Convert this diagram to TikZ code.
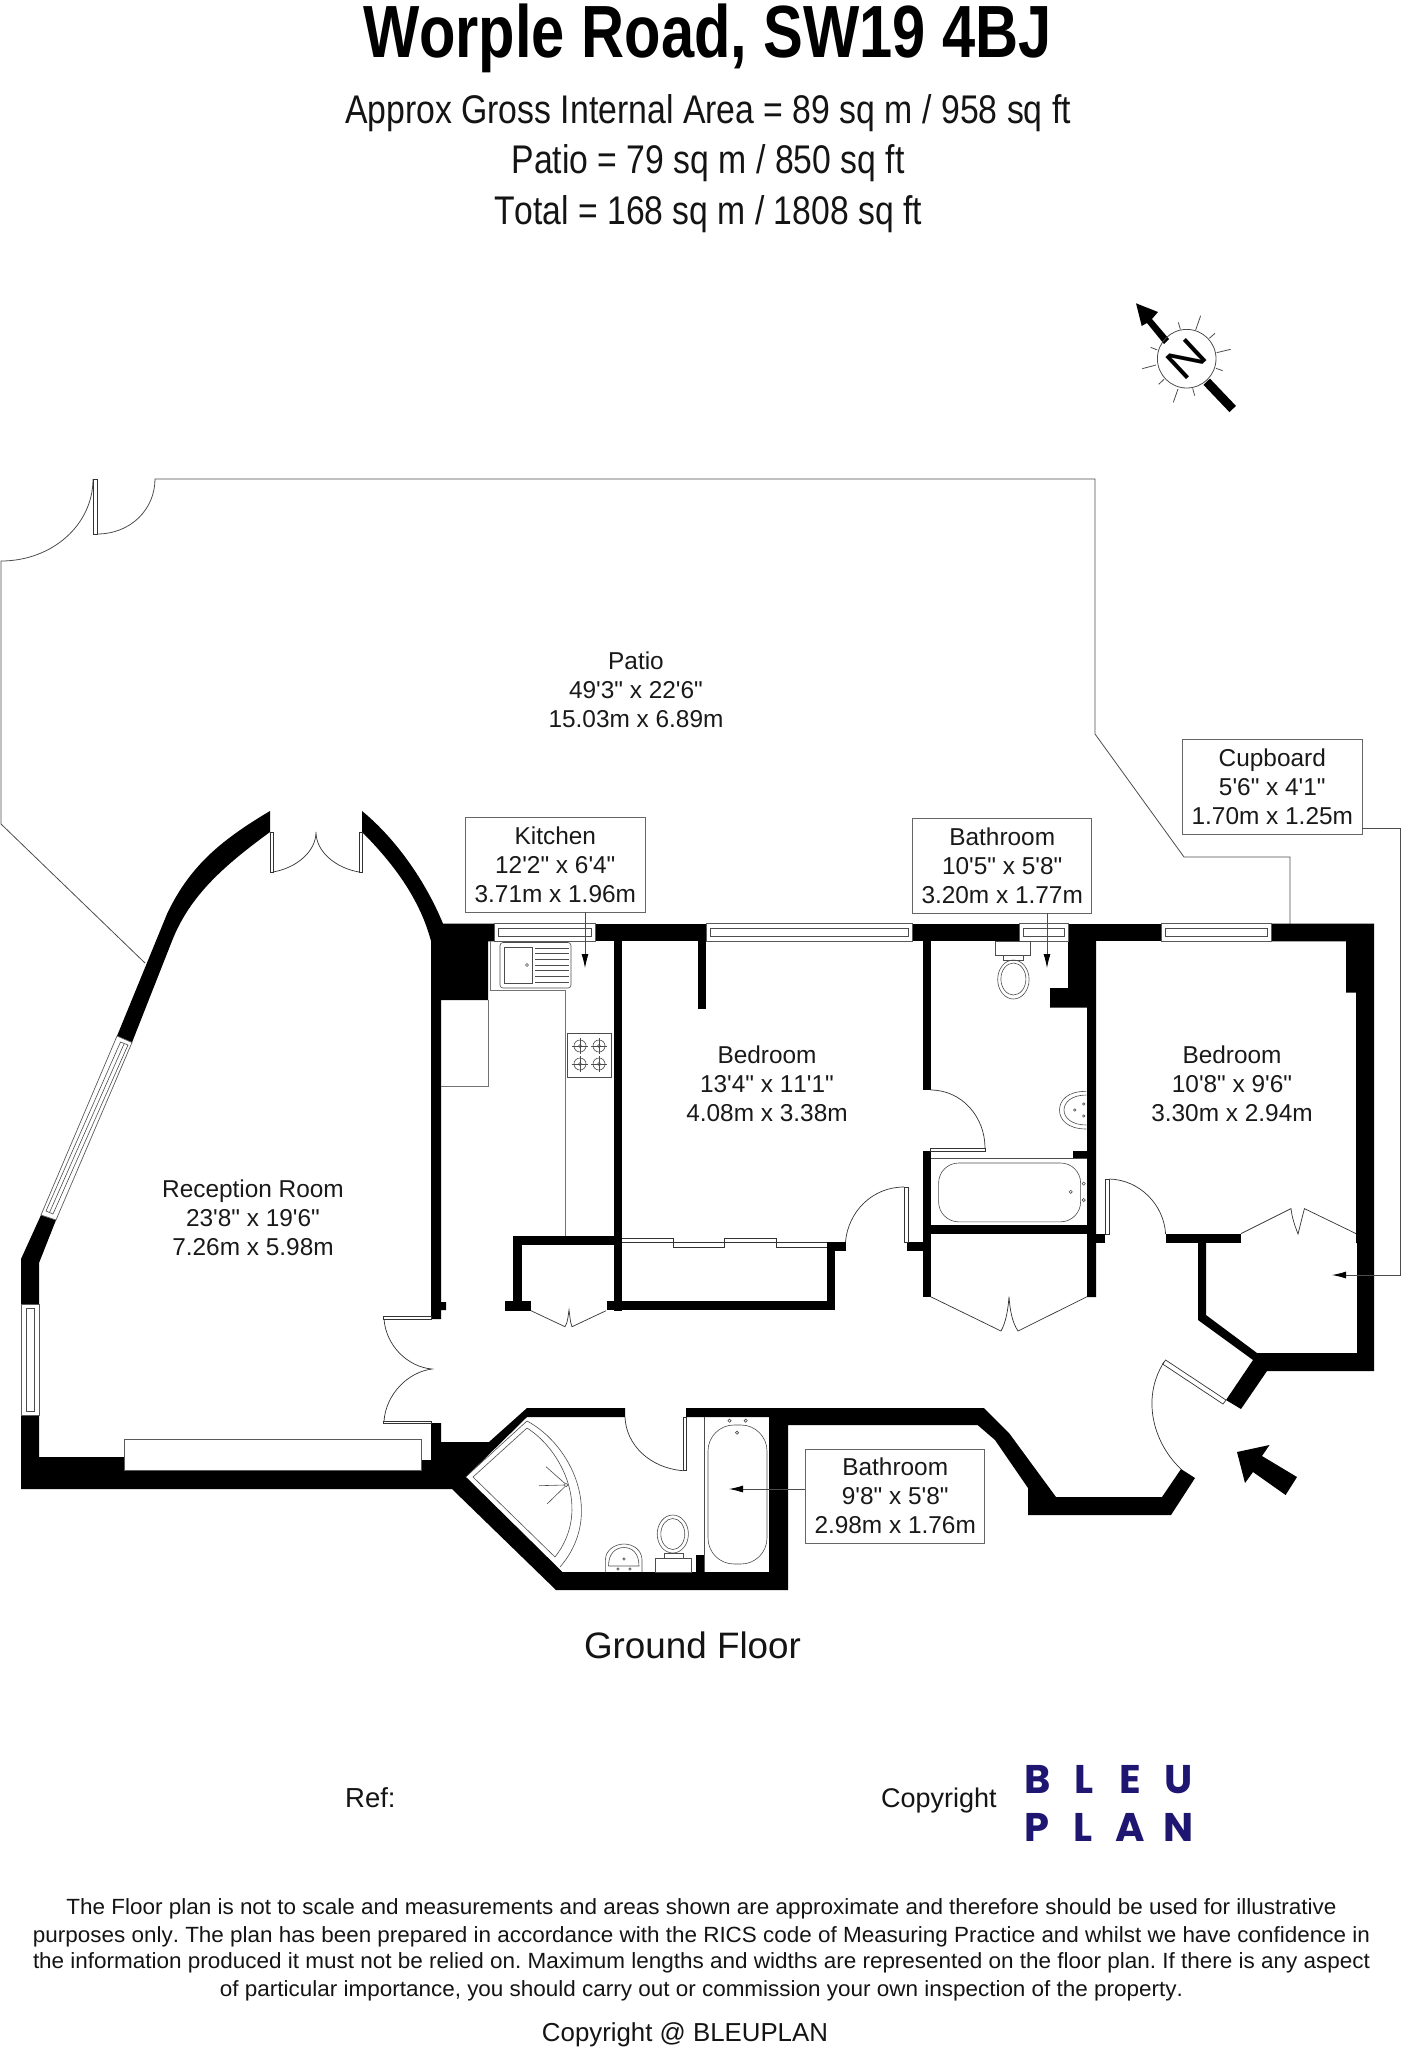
\documentclass[tikz,border=0pt]{standalone}
\usepackage{graphicx}
\usepackage{fontspec}
\usetikzlibrary{arrows.meta}
\newfontfamily\arl[Kerning=Off]{Liberation Sans}
\newfontfamily\logofont{Poppins}
\newcommand{\fitw}[2]{\resizebox{#1pt}{\height}{#2}}
\frenchspacing
\tikzset{
 wall/.style={fill=black,draw=none},
 door/.style={draw=black!80,line width=.7pt},
 fixture/.style={draw=black!70,line width=.6pt},
 glass/.style={draw=black!65,line width=.7pt,fill=white},
 outline/.style={draw=black!70,line width=.8pt},
 leader/.style={draw=black!70,line width=.8pt},
 tipped/.style={leader,-{Latex[length=14pt,width=7pt,black]}},
 labelbox/.style={draw=black!60,line width=.8pt,fill=white,inner sep=0pt,align=center,font=\arl\fontsize{24.4}{29}\selectfont,text=black!90},
 roomtext/.style={inner sep=0pt,align=center,font=\arl\fontsize{24.4}{29}\selectfont,text=black!90},
 line/.style={inner sep=0pt,anchor=base,text=black!92},
 logo/.style={inner sep=0pt,anchor=base,text=logoblue,font=\logofont\bfseries\fontsize{40}{40}\selectfont},
}
\definecolor{logoblue}{HTML}{1E1670}
\begin{document}
\begin{tikzpicture}[x=1pt,y=-1pt]
\useasboundingbox (0,0) rectangle (1402,2048);
% headings
\node[line,font=\arl\bfseries\fontsize{74}{74}\selectfont,text=black] (title) at (707.5,57) {\fitw{689}{Worple Road, SW19 4BJ}};
\node[line,font=\arl\fontsize{40}{40}\selectfont] (h1) at (708,123) {\fitw{726}{Approx Gross Internal Area = 89 sq m / 958 sq ft}};
\node[line,font=\arl\fontsize{40}{40}\selectfont] (h2) at (708,173) {\fitw{393}{Patio = 79 sq m / 850 sq ft}};
\node[line,font=\arl\fontsize{40}{40}\selectfont] (h3) at (708,224) {\fitw{428}{Total = 168 sq m / 1808 sq ft}};
% north arrow
\fill (1136,303.3) -- (1158,312) -- (1152,319) -- (1169,339) -- (1164,344) -- (1147,323) -- (1141.7,326) -- cycle;
\draw[line width=9pt] (1206.7,381.7) -- (1232.7,409);
\draw[draw=black!70,line width=.8pt] (1186.7,358.7) circle[radius=29.3pt];
\begin{scope}[shift={(1080,280)},x=.3333pt,y=-.3333pt]
\foreach \a/\b/\c/\d in {347/150/362/107,388/175/405/160,410/218/452/208,408/265/428/272,338/325/344/347,294/327/280/367,252/298/236/313,228/255/187/266,232/210/212/202,301/148/295/127}
  \draw[draw=black!70,line width=.8pt] (\a,\b) -- (\c,\d);
\end{scope}
\node[inner sep=0pt,rotate=43,font=\arl\fontsize{44}{44}\selectfont] (north) at (1186.7,358.7) {\scalebox{1.14}[1]{N}};
% patio outline
\draw[outline] (1,824) -- (1,561) .. controls (52,561) and (93,525) .. (93,479);
\draw[outline] (97,534) .. controls (131,534) and (155,509) .. (155,479) -- (1095,479) -- (1095,734) -- (1184,857) -- (1290,857) -- (1290,924);
\draw[outline] (1,824) -- (145,963);
\draw[door] (93.3,479) rectangle (97.3,534);
% walls
\fill[wall] (270,811) .. controls (223,839) and (190,865) .. (167,914) -- (117,1036) -- (132,1042.5) -- (172,941) .. controls (190,895) and (225,865) .. (270,832) -- cycle;
\fill[wall] (41,1215) -- (56,1220) -- (39,1263) -- (39,1304) -- (21,1304) -- (21,1259) -- cycle;
\fill[wall] (362,811) .. controls (395,838) and (425,880) .. (443,923.6) -- (494,923.6) -- (494,941.4) -- (488,941.4) -- (488,1000) -- (441,1000) -- (441,1302) -- (446,1302) -- (446,1310) -- (441,1310) -- (441,1319) -- (431,1319) -- (431,941) .. controls (420,900) and (395,865) .. (362,832) -- cycle;
\fill[wall] (21,1415) -- (39,1415) -- (39,1457) -- (124,1457) -- (124,1470) -- (421,1470) -- (421,1460) -- (431,1460) -- (431,1423) -- (441,1423) -- (441,1442) -- (489,1442) -- (527,1408) -- (625,1408) -- (625,1417) -- (527,1417) -- (466,1477) -- (562.5,1572) -- (696,1572) -- (696,1555) -- (704.5,1555) -- (704.5,1572) -- (769,1572) -- (769,1417) -- (686,1417) -- (686,1408) -- (984,1408) -- (1009,1433) -- (1056,1497) -- (1162,1497) -- (1181,1469) -- (1195,1478) -- (1171,1515) -- (1028,1515) -- (1028,1488) -- (995,1440) -- (977.6,1425) -- (788,1425) -- (788,1590) -- (556,1590) -- (452,1489) -- (21,1489) -- cycle;
% right hand wall
\fill[wall] (1271,923.6) -- (1374,923.6) -- (1374,1371) -- (1267,1371) -- (1241,1409) -- (1226,1400) -- (1253,1360) -- (1198,1320) -- (1198,1243) -- (1206,1243) -- (1206,1315) -- (1257,1353) -- (1357,1353) -- (1357,1243) -- (1356,1243) -- (1356,992.5) -- (1346,992.5) -- (1346,941.4) -- (1271,941.4) -- cycle;
\fill[wall] (1165.6,1234) rectangle (1241,1243);
% top wall pieces
\fill[wall] (595,923.6) rectangle (706,941.4);
\fill[wall] (912,923.6) rectangle (1019,941.4);
\fill[wall] (1068.5,923.6) rectangle (1161,941.4);
% inner walls
\fill[wall] (698,941) rectangle (706,1009);
\fill[wall] (614,941) rectangle (622,1311);
\fill[wall] (513,1236) rectangle (622,1245);
\fill[wall] (513,1236) rectangle (522,1301);
\fill[wall] (504.5,1301) rectangle (531,1311);
\fill[wall] (606.7,1301) rectangle (835,1310);
\fill[wall] (826.7,1241.7) rectangle (835,1310);
\fill[wall] (826.7,1241.7) rectangle (845.7,1251);
\fill[wall] (922.5,941) rectangle (930.6,1090);
\fill[wall] (922.5,1151) rectangle (930.6,1297);
\fill[wall] (907,1242) rectangle (922.5,1251);
\fill[wall] (930,1225) rectangle (1087,1234);
\fill[wall] (1068,941) -- (1096,941) -- (1096,1297) -- (1087,1297) -- (1087,1007.5) -- (1050,1007.5) -- (1050,988) -- (1068,988) -- cycle;
\fill[wall] (1096,1234) rectangle (1105,1243);
\fill[wall] (1072.5,1151) rectangle (1087,1159);
% windows
\draw[glass] (494,923.6) rectangle (595,941.4);
\draw[fixture] (498,928) rectangle (591.5,936.5);
\draw[glass] (706,923.6) rectangle (912,941.4);
\draw[fixture] (710,928) rectangle (908,936.5);
\draw[glass] (1019,923.6) rectangle (1068.5,941.4);
\draw[fixture] (1023,928) rectangle (1064.5,936.5);
\draw[glass] (1161,923.6) rectangle (1271,941.4);
\draw[fixture] (1165,928) rectangle (1267,936.5);
\draw[glass] (21,1304) rectangle (39,1415);
\draw[fixture] (26,1308) rectangle (34,1411);
\draw[glass] (117,1036) -- (132,1042.5) -- (56,1220) -- (41,1215) -- cycle;
\draw[fixture] (120.5,1042) -- (128,1045) -- (53,1214) -- (46,1211) -- cycle;
\draw[fixture] (124,1044) -- (49.5,1212.5);
% recess in the outer wall
\draw[glass] (124,1439.3) rectangle (421,1470);
% doors
\draw[door] (270,832) rectangle (273,872);
\draw[door] (359,832) rectangle (362,872);
\draw[door] (273,872) .. controls (296,868) and (316,852) .. (316,832) .. controls (316,852) and (336,868) .. (359,872);
\draw[door] (383,1316) rectangle (431,1319);
\draw[door] (383,1421) rectangle (431,1423.5);
\draw[door] (384,1319) .. controls (386,1346) and (408,1367) .. (432,1369) .. controls (408,1372) and (386,1394) .. (384,1421);
\draw[door] (904,1187) rectangle (908,1242);
\draw[door] (904,1187) .. controls (872,1187) and (848,1212) .. (845.5,1242);
\draw[door] (930.6,1148) rectangle (985,1151.4);
\draw[door] (930.6,1090) .. controls (962,1090) and (985,1117) .. (985,1148);
\draw[door] (1105,1179) rectangle (1109.6,1234);
\draw[door] (1109.6,1179) .. controls (1140,1180) and (1164,1205) .. (1165.6,1234);
\draw[door] (683,1417) rectangle (686.6,1470.7);
\draw[door] (683,1470.7) .. controls (650,1468) and (626,1445) .. (625,1417);
\draw[door] (1165.6,1360) -- (1226,1400) -- (1223,1404) -- (1162.6,1364) -- cycle;
\draw[door] (1164,1362) .. controls (1140,1400) and (1155,1445) .. (1181,1469);
% folding cupboard doors
\draw[door] (531,1310.7) -- (565,1326.7) .. controls (568,1322) and (568,1316) .. (569,1310) .. controls (570,1316) and (570,1322) .. (572,1326.7) -- (606,1310.7);
\draw[door] (930.6,1296.7) -- (1001,1331) .. controls (1006,1322) and (1008,1310) .. (1009,1296.7) .. controls (1010,1310) and (1012,1322) .. (1018,1331) -- (1087,1296.7);
\draw[door] (1241,1233.6) -- (1291,1208.6) .. controls (1292,1218) and (1295,1226) .. (1298,1234) .. controls (1300,1226) and (1302,1218) .. (1304.4,1208.6) -- (1356,1233.6);
% wardrobe sliding doors
\draw[door] (622,1238) -- (673,1238) -- (673,1247) -- (724,1247) -- (724,1238) -- (776,1238) -- (776,1247) -- (827,1247);
\draw[door] (622,1242.5) -- (827,1242.5);
% kitchen fittings
\draw[fixture,draw=black!55] (490,941) -- (490,990.7) -- (565,990.7) -- (565,1236);
\draw[fixture,draw=black!55] (488,1000) -- (488,1086) -- (441,1086);
\draw[fixture,rounded corners=3pt] (500,942.5) rectangle (571,988);
\draw[fixture] (504.5,947) rectangle (532,983);
\draw[fixture] (527,965) circle[radius=1.5pt];
\foreach \y in {948,953.7,959.4,965,970.7,976.4,982} \draw[fixture] (535,\y) -- (569,\y);
\draw[fixture] (567,1033.6) rectangle (611.6,1077.5);
\foreach \cx/\cy in {580/1046,599/1046,580/1064,599/1064}{
  \draw[fixture] (\cx,\cy) circle[radius=6pt] (\cx,\cy) circle[radius=1.5pt];
  \draw[fixture] (\cx-8,\cy) -- (\cx+8,\cy) (\cx,\cy-8) -- (\cx,\cy+8);
}
% upper bathroom fittings
\draw[fixture] (995.5,941) rectangle (1030.4,955);
\draw[fixture] (1003.6,955) rectangle (1023,960);
\draw[fixture] (1013.4,979.5) ellipse[x radius=15.7pt,y radius=19.5pt];
\draw[fixture] (1013.4,979) ellipse[x radius=12.5pt,y radius=16pt];
\draw[fixture] (1086.4,1091.4) .. controls (1068,1091) and (1059.5,1100) .. (1059.5,1110) .. controls (1059.5,1120) and (1068,1129) .. (1086.4,1129);
\draw[fixture] (1086.4,1095) .. controls (1072,1095) and (1064,1102) .. (1064,1110) .. controls (1064,1118) and (1072,1125) .. (1086.4,1125);
\foreach \px/\py in {1083.7/1104,1083.7/1116,1074.7/1110} \draw[fixture] (\px,\py) circle[radius=1.2pt];
\draw[fixture] (930.6,1158.6) -- (1087,1158.6);
\draw[fixture,rounded corners=20pt] (938.6,1163) rectangle (1080.6,1221.8);
\foreach \px/\py in {1070.7/1191.8,1083.7/1183.6,1083.7/1200} \draw[fixture] (\px,\py) circle[radius=1.6pt];
% lower bathroom fittings
\draw[fixture] (704.5,1417) -- (704.5,1555);
\draw[fixture,rounded corners=26pt] (708,1425) rectangle (767,1564);
\foreach \px/\py in {729.5/1420.7,745.7/1420.7,737/1432.7} \draw[fixture] (\px,\py) circle[radius=1.6pt];
\draw[fixture] (655,1558) rectangle (691,1572);
\draw[fixture] (664,1553) rectangle (683,1558);
\draw[fixture] (672.8,1534) ellipse[x radius=15.6pt,y radius=19pt];
\draw[fixture] (672.8,1534) ellipse[x radius=12pt,y radius=15.5pt];
\draw[fixture] (605.4,1572) -- (605.4,1560) .. controls (605.4,1550) and (615,1544) .. (624,1544) .. controls (633,1544) and (642,1550) .. (642,1560) -- (642,1572);
\draw[fixture] (608.5,1566) .. controls (608.5,1553) and (616,1547.5) .. (624,1547.5) .. controls (632,1547.5) and (639,1553) .. (639,1566) -- (608.5,1566);
\foreach \px/\py in {618/1569,630/1569,624/1559} \draw[fixture] (\px,\py) circle[radius=1.2pt];
\draw[fixture] (527,1421) .. controls (572,1445) and (605,1515) .. (560,1567);
\draw[fixture] (527,1428) .. controls (562,1450) and (592,1510) .. (555,1557);
\draw[fixture] (527,1428) -- (473,1477) -- (555,1557);
\draw[fixture] (527,1421) -- (465.6,1477);
\draw[fixture] (566,1485) circle[radius=1.8pt];
\draw[fixture] (564,1485) -- (539,1485.7) (565,1483.5) -- (546,1466.7) (565,1486.5) -- (547,1504);
% entrance arrow
\fill (1237,1452) -- (1269.5,1445) -- (1262,1456) -- (1297,1477) -- (1285.6,1495) -- (1253,1472) -- (1245,1483) -- cycle;
% room labels
\node[roomtext] (patio) at (636,690) {Patio\\49'3" x 22'6"\\15.03m x 6.89m};
\node[roomtext] (reception) at (253,1218) {Reception Room\\23'8" x 19'6"\\7.26m x 5.98m};
\node[roomtext] (bedroomA) at (767,1084) {Bedroom\\13'4" x 11'1"\\4.08m x 3.38m};
\node[roomtext] (bedroomB) at (1232,1084) {Bedroom\\10'8" x 9'6"\\3.30m x 2.94m};
\node[labelbox,minimum width=179.4pt,minimum height=94.5pt] (kitchen) at (555.3,864.8) {Kitchen\\12'2" x 6'4"\\3.71m x 1.96m};
\node[labelbox,minimum width=179pt,minimum height=95pt] (bathA) at (1002.2,865.5) {Bathroom\\10'5" x 5'8"\\3.20m x 1.77m};
\node[labelbox,minimum width=179.4pt,minimum height=94.5pt] (cupboard) at (1272.3,786.8) {Cupboard\\5'6" x 4'1"\\1.70m x 1.25m};
\node[labelbox,minimum width=179pt,minimum height=94pt] (bathB) at (895.2,1496) {Bathroom\\9'8" x 5'8"\\2.98m x 1.76m};
% leaders
\coordinate (kitchenTip) at (585,968);
\coordinate (bathATip) at (1047,968);
\coordinate (cupTip) at (1332,1275);
\coordinate (cupBendA) at (1400,828);
\coordinate (cupBendB) at (1400,1275);
\coordinate (bathBTip) at (729,1489);
\draw[tipped] (kitchen.south -| kitchenTip) -- (kitchenTip);
\draw[tipped] (bathA.south -| bathATip) -- (bathATip);
\draw[tipped] (cupboard.east |- cupBendA) -- (cupBendA) -- (cupBendB) -- (cupTip);
\draw[tipped] (bathB.west |- bathBTip) -- (bathBTip);
% lower text
\node[line,font=\arl\fontsize{36.8}{36.8}\selectfont] (ground) at (692.5,1658) {Ground Floor};
\node[line,anchor=base west,font=\arl\fontsize{27.5}{27.5}\selectfont] (ref) at (345,1807) {Ref:};
\node[line,anchor=base west,font=\arl\fontsize{27}{27}\selectfont] (copy) at (881,1807) {Copyright};
\node[logo] (lB) at (1037.5,1793) {B};
\node[logo] (lL) at (1084.5,1793) {L};
\node[logo] (lE) at (1130,1793) {E};
\node[logo] (lU) at (1179,1793) {U};
\node[logo] (lP) at (1037,1841) {P};
\node[logo] (lL2) at (1083.5,1841) {L};
\node[logo] (lA) at (1130,1841) {A};
\node[logo] (lN) at (1179,1841) {N};
\node[line,font=\arl\fontsize{22}{22}\selectfont] (d1) at (701.5,1914) {\fitw{1270}{The Floor plan is not to scale and measurements and areas shown are approximate and therefore should be used for illustrative}};
\node[line,font=\arl\fontsize{22}{22}\selectfont] (d2) at (701.5,1942) {\fitw{1337}{purposes only. The plan has been prepared in accordance with the RICS code of Measuring Practice and whilst we have confidence in}};
\node[line,font=\arl\fontsize{22}{22}\selectfont] (d3) at (701.5,1968) {\fitw{1337}{the information produced it must not be relied on. Maximum lengths and widths are represented on the floor plan. If there is any aspect}};
\node[line,font=\arl\fontsize{22}{22}\selectfont] (d4) at (701.5,1996) {\fitw{963}{of particular importance, you should carry out or commission your own inspection of the property.}};
\node[line,font=\arl\fontsize{26}{26}\selectfont] (d5) at (685,2041) {\fitw{286}{Copyright @ BLEUPLAN}};
\end{tikzpicture}
\end{document}
